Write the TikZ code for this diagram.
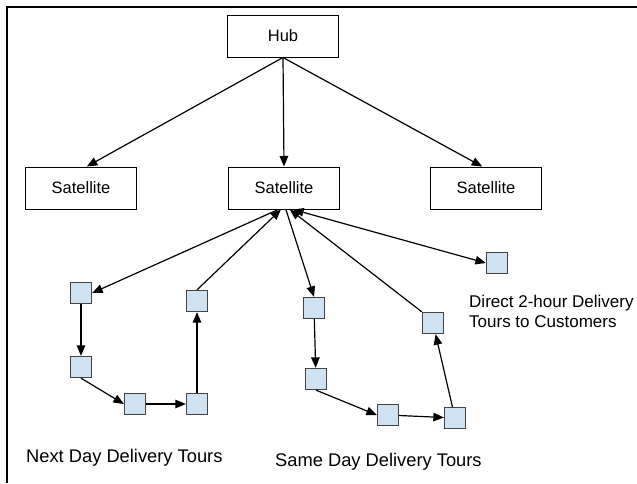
\documentclass[tikz,border=0pt]{standalone}
\usepackage{fontspec}
\setmainfont{Liberation Sans}
\usetikzlibrary{arrows.meta}

\definecolor{stopfill}{HTML}{CFE2F3}
\definecolor{stopline}{HTML}{434343}

\tikzset{
    facility/.style={draw=black, line width=1pt, minimum width=111pt, minimum height=42pt,
        inner sep=0pt, font=\fontsize{16.5}{19}\selectfont},
    customer/.style={draw=stopline, fill=stopfill, line width=1.3pt, minimum size=21pt, inner sep=0pt},
    tour/.style={-{Triangle[length=10.5pt,width=8.5pt]}, line width=1.2pt},
    caption/.style={inner sep=0pt, font=\fontsize{18.3}{22}\selectfont},
}

\begin{document}
\begin{tikzpicture}[x=1pt, y=-1pt]
    \useasboundingbox (0,0) rectangle (637,483);
    % frame, only top and left edges are visible
    \draw[line width=2pt] (637,7) -- (7,7) -- (7,483);

    % hub and satellites
    \node[facility] (hub) at (283,36) {Hub};
    \node[facility] (satL) at (81,188) {Satellite};
    \node[facility] (satM) at (284,188) {Satellite};
    \node[facility] (satR) at (486,188) {Satellite};
    \foreach \s/\a in {satL/75, satM/90, satR/100}
        \draw[tour] (hub.south) -- (\s.\a);

    % customer stops
    \foreach \n/\x/\y in
    {a1/81/293, a2/81/367, a3/135/404, a4/197/404, a5/197/301,
        b1/314/308, b2/316/379, b3/388/415, b4/455/418, b5/433/323,
        c1/497/263}
    {
        \node[customer] (\n) at (\x,\y) {};
    };

    % next day tour
    \draw[tour] (satM.255) -- (a1.east);
    \foreach \u/\v in {a1/a2, a2.south/a3.west, a3/a4, a4/a5}
        \draw[tour] (\u) -- (\v);
    \draw[tour] (a5.north) -- (satM.262);

    % same day tour
    \draw[tour] (satM.275) -- (b1.north);
    \foreach \u/\v in {b1/b2, b2.south/b3.west, b3/b4, b4/b5}
        \draw[tour] (\u) -- (\v);
    \draw[tour] (b5.north west) -- (satM.285);

    % direct delivery, out and back
    \draw[tour, {Triangle[length=10.5pt,width=8.5pt]}-{Triangle[length=10.5pt,width=8.5pt]}]
        (satM.293) -- (c1.west);

    \node[caption, anchor=west] (nextday) at (26,458) {Next Day Delivery Tours};
    \node[caption, anchor=west] (sameday) at (275,462) {Same Day Delivery Tours};
    \node[inner sep=0pt, anchor=west, align=left, font=\fontsize{17}{20}\selectfont]
        (direct) at (469,311) {Direct 2-hour Delivery\\Tours to Customers};
\end{tikzpicture}
\end{document}
